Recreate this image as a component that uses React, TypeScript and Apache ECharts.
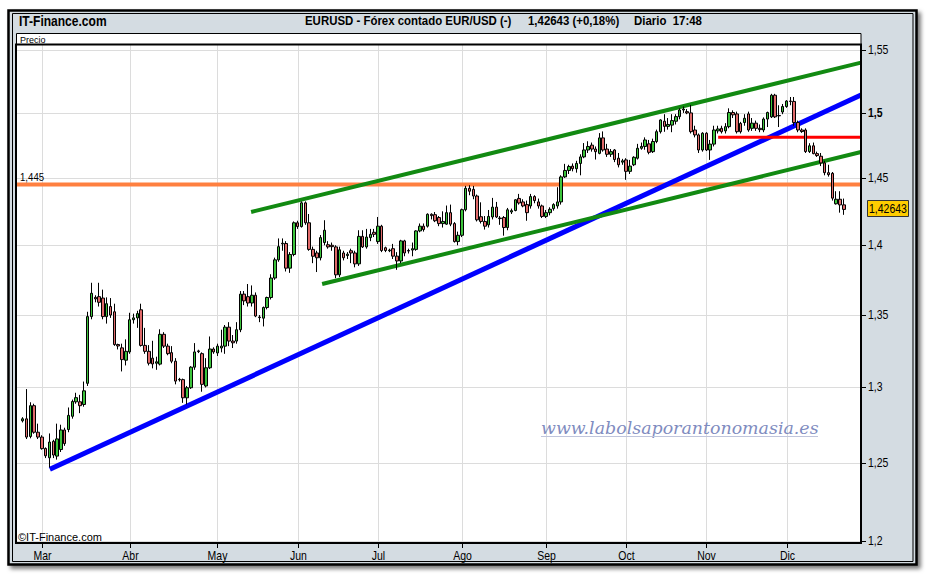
import React, { useEffect, useRef } from "react";
import * as echarts from "echarts";

// Daily candles [open, close, low, high] (EUR/USD, late Feb -> Dec 2009)
const CANDLES: number[][] = [
  [1.2776,1.2789,1.2765,1.2800],[1.2789,1.2668,1.2655,1.2989],[1.2672,1.2877,1.2660,1.2900],[1.2877,1.2700,1.2690,1.2890],
  [1.2700,1.2668,1.2655,1.2757],[1.2668,1.2592,1.2585,1.2680],[1.2593,1.2545,1.2530,1.2600],[1.2532,1.2635,1.2469,1.2692],
  [1.2640,1.2550,1.2530,1.2650],[1.2543,1.2656,1.2520,1.2757],[1.2586,1.2715,1.2570,1.2750],[1.2715,1.2625,1.2610,1.2730],
  [1.2718,1.2812,1.2700,1.2865],[1.2806,1.2905,1.2790,1.2918],[1.2903,1.2931,1.2890,1.2964],[1.2903,1.2877,1.2827,1.2950],
  [1.2885,1.2977,1.2870,1.3040],[1.3028,1.3489,1.3010,1.3523],[1.3489,1.3654,1.3470,1.3729],[1.3625,1.3614,1.3590,1.3640],
  [1.3630,1.3590,1.3560,1.3729],[1.3620,1.3489,1.3470,1.3680],[1.3489,1.3580,1.3440,1.3625],[1.3560,1.3500,1.3480,1.3620],
  [1.3523,1.3294,1.3285,1.3580],[1.3294,1.3284,1.3260,1.3300],[1.3271,1.3190,1.3109,1.3300],[1.3186,1.3247,1.3150,1.3330],
  [1.3243,1.3467,1.3230,1.3516],[1.3467,1.3480,1.3440,1.3510],[1.3480,1.3510,1.3410,1.3530],[1.3537,1.3288,1.3280,1.3580],
  [1.3288,1.3247,1.3230,1.3410],[1.3247,1.3165,1.3150,1.3290],[1.3200,1.3160,1.3130,1.3320],[1.3165,1.3175,1.3120,1.3210],
  [1.3159,1.3365,1.3150,1.3400],[1.3365,1.3283,1.3270,1.3380],[1.3283,1.3231,1.3220,1.3300],[1.3238,1.3179,1.3165,1.3283],
  [1.3179,1.3043,1.3021,1.3200],[1.3055,1.3052,1.3040,1.3065],[1.3053,1.2930,1.2896,1.3060],[1.2930,1.2998,1.2885,1.3010],
  [1.2998,1.3138,1.2990,1.3145],[1.3138,1.3243,1.3120,1.3304],[1.3250,1.3245,1.3235,1.3258],[1.3231,1.3021,1.2971,1.3240],
  [1.3010,1.3134,1.3000,1.3200],[1.3134,1.3263,1.3125,1.3350],[1.3263,1.3243,1.3230,1.3275],[1.3236,1.3283,1.3215,1.3300],
  [1.3270,1.3283,1.3240,1.3397],[1.3283,1.3415,1.3230,1.3430],[1.3415,1.3318,1.3283,1.3450],[1.3318,1.3306,1.3270,1.3360],
  [1.3318,1.3397,1.3300,1.3450],[1.3397,1.3648,1.3380,1.3670],[1.3648,1.3600,1.3570,1.3670],[1.3630,1.3585,1.3560,1.3720],
  [1.3585,1.3640,1.3560,1.3710],[1.3640,1.3493,1.3485,1.3660],[1.3486,1.3482,1.3450,1.3500],[1.3478,1.3553,1.3420,1.3560],
  [1.3553,1.3624,1.3540,1.3630],[1.3624,1.3763,1.3610,1.3790],[1.3763,1.3894,1.3750,1.3910],[1.3894,1.3990,1.3880,1.4050],
  [1.4010,1.4015,1.3960,1.4050],[1.4013,1.3834,1.3810,1.4030],[1.3834,1.3933,1.3800,1.3950],[1.3933,1.4165,1.3920,1.4175],
  [1.4165,1.4137,1.4120,1.4180],[1.4137,1.4313,1.4130,1.4324],[1.4313,1.4165,1.4150,1.4324],[1.4165,1.3970,1.3960,1.4230],
  [1.3970,1.3920,1.3870,1.3990],[1.3944,1.3909,1.3806,1.3960],[1.3909,1.4056,1.3890,1.4075],[1.4020,1.4110,1.4000,1.4184],
  [1.4004,1.3988,1.3975,1.4030],[1.4000,1.3990,1.3960,1.4020],[1.3988,1.3786,1.3762,1.4000],[1.3786,1.3967,1.3770,1.3990],
  [1.3944,1.3909,1.3890,1.3960],[1.3925,1.3935,1.3900,1.3950],[1.3960,1.3944,1.3870,1.3975],[1.3944,1.3865,1.3840,1.3960],
  [1.3865,1.4065,1.3850,1.4110],[1.4065,1.3988,1.3980,1.4110],[1.3988,1.4060,1.3975,1.4120],[1.4056,1.4080,1.4030,1.4120],
  [1.4095,1.4080,1.4060,1.4120],[1.4027,1.4140,1.4010,1.4208],[1.4140,1.3962,1.3950,1.4150],[1.3982,1.3962,1.3950,1.3990],
  [1.3960,1.3965,1.3950,1.3975],[1.3975,1.3921,1.3900,1.4010],[1.3921,1.3886,1.3822,1.3950],[1.3886,1.4032,1.3870,1.4040],
  [1.4032,1.3944,1.3920,1.4040],[1.3962,1.3958,1.3940,1.3975],[1.3965,1.3975,1.3920,1.4020],[1.3970,1.4105,1.3960,1.4110],
  [1.4105,1.4140,1.4095,1.4160],[1.4140,1.4115,1.4100,1.4160],[1.4140,1.4228,1.4130,1.4235],[1.4228,1.4218,1.4190,1.4235],
  [1.4225,1.4180,1.4170,1.4245],[1.4204,1.4159,1.4140,1.4215],[1.4159,1.4175,1.4130,1.4250],[1.4155,1.4240,1.4150,1.4293],
  [1.4240,1.4155,1.4140,1.4300],[1.4159,1.4027,1.4020,1.4170],[1.4027,1.4073,1.4000,1.4100],[1.4073,1.4262,1.4060,1.4270],
  [1.4262,1.4422,1.4250,1.4440],[1.4422,1.4400,1.4370,1.4445],[1.4414,1.4364,1.4340,1.4440],[1.4364,1.4187,1.4175,1.4375],
  [1.4210,1.4175,1.4160,1.4317],[1.4175,1.4140,1.4115,1.4215],[1.4150,1.4212,1.4130,1.4260],[1.4208,1.4281,1.4190,1.4350],
  [1.4281,1.4208,1.4200,1.4320],[1.4200,1.4196,1.4150,1.4215],[1.4204,1.4130,1.4070,1.4215],[1.4130,1.4261,1.4110,1.4275],
  [1.4245,1.4255,1.4230,1.4270],[1.4256,1.4336,1.4250,1.4340],[1.4346,1.4312,1.4300,1.4380],[1.4320,1.4290,1.4280,1.4340],
  [1.4300,1.4240,1.4180,1.4330],[1.4290,1.4360,1.4270,1.4380],[1.4360,1.4330,1.4310,1.4370],[1.4320,1.4290,1.4270,1.4345],
  [1.4290,1.4212,1.4200,1.4300],[1.4212,1.4240,1.4200,1.4260],[1.4240,1.4265,1.4220,1.4280],[1.4270,1.4300,1.4255,1.4310],
  [1.4290,1.4320,1.4270,1.4430],[1.4320,1.4508,1.4300,1.4520],[1.4508,1.4557,1.4500,1.4607],[1.4557,1.4587,1.4530,1.4600],
  [1.4590,1.4570,1.4550,1.4610],[1.4570,1.4610,1.4540,1.4630],[1.4610,1.4660,1.4520,1.4680],[1.4660,1.4713,1.4650,1.4766],
  [1.4713,1.4740,1.4690,1.4780],[1.4750,1.4720,1.4700,1.4770],[1.4720,1.4700,1.4640,1.4740],[1.4687,1.4806,1.4680,1.4843],
  [1.4806,1.4713,1.4700,1.4856],[1.4720,1.4680,1.4660,1.4760],[1.4680,1.4700,1.4660,1.4720],[1.4713,1.4640,1.4620,1.4720],
  [1.4650,1.4600,1.4580,1.4690],[1.4620,1.4630,1.4600,1.4645],[1.4637,1.4550,1.4486,1.4650],[1.4550,1.4590,1.4530,1.4637],
  [1.4600,1.4657,1.4590,1.4665],[1.4650,1.4726,1.4640,1.4760],[1.4726,1.4740,1.4715,1.4770],[1.4740,1.4790,1.4715,1.4810],
  [1.4760,1.4695,1.4680,1.4790],[1.4700,1.4778,1.4690,1.4800],[1.4778,1.4854,1.4765,1.4870],[1.4854,1.4945,1.4840,1.4950],
  [1.4935,1.4895,1.4853,1.4990],[1.4895,1.4910,1.4870,1.4960],[1.4905,1.4940,1.4850,1.4990],[1.4935,1.4971,1.4910,1.4990],
  [1.4971,1.5023,1.4950,1.5036],[1.5023,1.5030,1.5000,1.5050],[1.5010,1.5000,1.4990,1.5030],[1.5000,1.4854,1.4840,1.5062],
  [1.4867,1.4829,1.4810,1.4900],[1.4829,1.4713,1.4690,1.4840],[1.4713,1.4842,1.4700,1.4850],[1.4842,1.4713,1.4705,1.4850],
  [1.4713,1.4758,1.4637,1.4790],[1.4758,1.4867,1.4740,1.4900],[1.4860,1.4875,1.4840,1.4900],[1.4880,1.4854,1.4840,1.4900],
  [1.4860,1.4893,1.4840,1.4920],[1.4893,1.5003,1.4880,1.5036],[1.5003,1.4985,1.4960,1.5020],[1.4992,1.4854,1.4840,1.5010],
  [1.4918,1.4854,1.4840,1.4930],[1.4925,1.4958,1.4900,1.4990],[1.4992,1.4867,1.4853,1.5010],[1.4880,1.4920,1.4860,1.4960],
  [1.4920,1.4880,1.4860,1.4940],[1.4880,1.4870,1.4850,1.4910],[1.4867,1.4952,1.4850,1.4965],[1.4952,1.5003,1.4890,1.5010],
  [1.4969,1.5139,1.4960,1.5150],[1.5139,1.4969,1.4960,1.5150],[1.4980,1.4977,1.4890,1.5060],[1.5007,1.5050,1.4990,1.5070],
  [1.5050,1.5093,1.5040,1.5100],[1.5093,1.5090,1.5060,1.5125],[1.5090,1.4925,1.4900,1.5125],[1.4925,1.4867,1.4850,1.4940],
  [1.4867,1.4855,1.4845,1.4880],[1.4867,1.4701,1.4690,1.4880],[1.4701,1.4745,1.4690,1.4765],[1.4745,1.4685,1.4680,1.4770],
  [1.4685,1.4670,1.4660,1.4700],[1.4665,1.4614,1.4590,1.4690],[1.4614,1.4540,1.4520,1.4630],[1.4540,1.4525,1.4510,1.4600],
  [1.4535,1.4348,1.4330,1.4545],[1.4306,1.4340,1.4300,1.4400],[1.4340,1.4298,1.4240,1.4400],[1.4298,1.4264,1.4224,1.4345],
];

// Month labels and the candle index where each month starts
const MONTH_LABELS = ["Mar", "Abr", "May", "Jun", "Jul", "Ago", "Sep", "Oct", "Nov", "Dic"];
const MONTH_START_INDEX = [5, 28, 51, 72, 93, 115, 137, 158, 179, 200];

// Price axis (logarithmic) ticks
const Y_TICKS = [1.2, 1.25, 1.3, 1.35, 1.4, 1.45, 1.5, 1.55];
const Y_TICK_LABELS = ["1,2", "1,25", "1,3", "1,35", "1,4", "1,45", "1,5", "1,55"];
const Y_BOLD_TICK = 1.5;
const Y_MIN = 1.19875;
const Y_MAX = 1.55405;

// Horizontal level and last price
const LEVEL_VALUE = 1.445;
const LEVEL_LABEL = "1,445";
const LAST_PRICE = 1.42643;
const LAST_PRICE_LABEL = "1,42643";

// Trend lines: [category position, price]
const BLUE_LINE = [[8.1, 1.2457], [220.5, 1.5141]];
const GREEN_UPPER_LINE = [[60.8, 1.4245], [220.5, 1.5398]];
const GREEN_LOWER_LINE = [[79.4, 1.372], [220.5, 1.4697]];
const RED_LINE = [[183.1, 1.481], [220.5, 1.481]];
const ORANGE_LINE = [[-0.5, LEVEL_VALUE], [220.5, LEVEL_VALUE]];

const PAD_LEFT = 1;
const PAD_RIGHT = 4;
const CAT_COUNT = PAD_LEFT + CANDLES.length + PAD_RIGHT;
const CATEGORIES = Array.from({ length: CAT_COUNT }, (_, i) => "d" + i);

const SANS = "'Liberation Sans', Arial, sans-serif";
const NARROW_SCALE = 0.84;
const GRID = { left: 17, top: 45, width: 844, height: 498 };

export default function App() {
  const ref = useRef<HTMLDivElement>(null);

  useEffect(() => {
    if (!ref.current) return;
    const chart = echarts.init(ref.current, undefined, { renderer: "svg" });
    const pad = ["-", "-", "-", "-"];
    const candleData: any[] = [];
    for (let i = 0; i < PAD_LEFT; i++) candleData.push(pad);
    CANDLES.forEach((c) => candleData.push(c));
    for (let i = 0; i < PAD_RIGHT; i++) candleData.push(pad);

    const lineSeries = (data: number[][], color: string, width: number) => ({
      type: "line",
      xAxisIndex: 1,
      yAxisIndex: 0,
      data,
      showSymbol: false,
      symbol: "none",
      silent: true,
      clip: true,
      z: 3,
      lineStyle: { color, width, cap: "butt" },
    });

    const narrowText = (text: string, x: number, y: number, size: number, bold: boolean, scale: number) => ({
      type: "text", z: 41, silent: true, x, y, scaleX: scale,
      style: { text, fontSize: size, fontWeight: bold ? "bold" : "normal", fontFamily: SANS, fill: "#000", verticalAlign: "middle" },
    });

    const option: any = {
      animation: false,
      backgroundColor: "#ffffff",
      grid: { ...GRID, show: false, containLabel: false },
      xAxis: [
        { type: "category", data: CATEGORIES, boundaryGap: true, show: false },
        { type: "value", min: -0.5, max: CAT_COUNT - 0.5, show: false },
      ],
      yAxis: [{ type: "log", logBase: 10, min: Y_MIN, max: Y_MAX, show: false }],
      graphic: [
        {
          type: "rect", z: -20, silent: true,
          shape: { x: 8.5, y: 10.5, width: 908, height: 554 },
          style: { fill: "#d4dce2", stroke: "#000", lineWidth: 2.5, shadowBlur: 4, shadowOffsetX: 3, shadowOffsetY: 3, shadowColor: "rgba(0,0,0,0.55)" },
        },
        {
          type: "rect", z: -19, silent: true,
          shape: { x: 12.5, y: 13.5, width: 900.5, height: 548 },
          style: { fill: "none", stroke: "#000", lineWidth: 1 },
        },
        {
          type: "rect", z: -15, silent: true,
          shape: { x: GRID.left, y: GRID.top, width: GRID.width, height: GRID.height },
          style: { fill: "#ffffff" },
        },
        {
          type: "rect", z: 40, silent: true,
          shape: { x: 16.5, y: 33.5, width: 844.5, height: 11 },
          style: { fill: "#ffffff", stroke: "#000", lineWidth: 1 },
        },
        {
          type: "text", z: 41, silent: true, x: 20, y: 39.5,
          style: { text: "Precio", fontSize: 9, fontFamily: SANS, fill: "#000", verticalAlign: "middle" },
        },
        {
          type: "rect", z: 50, silent: true,
          shape: { x: 16, y: 44.5, width: 845, height: 498.5 },
          style: { fill: "none", stroke: "#000", lineWidth: 2 },
        },
        narrowText("IT-Finance.com", 19, 21, 14, true, 0.86),
        narrowText("EURUSD - Fórex contado EUR/USD (-)", 305, 21, 13, true, 0.88),
        narrowText("1,42643 (+0,18%)", 528, 21, 13, true, 0.88),
        narrowText("Diario  17:48", 634, 21, 13, true, 0.88),
        narrowText("©IT-Finance.com", 18, 537, 11, false, 1.0),
        {
          type: "text", z: 30, silent: true, x: 541, y: 428,
          style: { text: "www.labolsaporantonomasia.es", fontSize: 17.4, fontStyle: "italic", fontFamily: "'DejaVu Serif', 'Liberation Serif', serif", fill: "#7f8cc0", verticalAlign: "middle" },
        },
        {
          type: "line", z: 30, silent: true,
          shape: { x1: 541, y1: 436.5, x2: 818, y2: 436.5 },
          style: { stroke: "#c0c5dc", lineWidth: 1 },
        },
      ],
      series: [
        {
          type: "custom",
          name: "yTicks",
          xAxisIndex: 1,
          yAxisIndex: 0,
          z: 1,
          silent: true,
          clip: false,
          data: Y_TICKS.map((v, i) => [0, v, i]),
          renderItem: (params: any, api: any) => {
            const cs = params.coordSys;
            const v = api.value(1);
            const i = api.value(2);
            const y = Math.round(api.coord([0, v])[1]) + 0.5;
            const r = cs.x + cs.width;
            return {
              type: "group",
              children: [
                { type: "line", shape: { x1: cs.x, y1: y, x2: r, y2: y }, style: { stroke: "#dcdcdc", lineWidth: 1 } },
                { type: "line", shape: { x1: r, y1: y, x2: r + 5, y2: y }, style: { stroke: "#000", lineWidth: 1 } },
                {
                  type: "text", x: r + 7, y: y - 1, scaleX: NARROW_SCALE,
                  style: {
                    text: Y_TICK_LABELS[i], fontSize: 12.5, fontFamily: SANS,
                    fontWeight: v === Y_BOLD_TICK ? "bold" : "normal",
                    fill: "#000", align: "left", verticalAlign: "middle",
                  },
                },
              ],
            };
          },
        },
        {
          type: "custom",
          name: "xTicks",
          xAxisIndex: 1,
          yAxisIndex: 0,
          z: 1,
          silent: true,
          clip: false,
          data: MONTH_START_INDEX.map((s, i) => [s + PAD_LEFT, 1.3, i]),
          renderItem: (params: any, api: any) => {
            const cs = params.coordSys;
            const x = Math.round(api.coord([api.value(0), 1.3])[0]) + 0.5;
            const i = api.value(2);
            const b = cs.y + cs.height;
            return {
              type: "group",
              children: [
                { type: "line", shape: { x1: x, y1: cs.y, x2: x, y2: b }, style: { stroke: "#dcdcdc", lineWidth: 1 } },
                { type: "line", shape: { x1: x, y1: b, x2: x, y2: b + 5 }, style: { stroke: "#000", lineWidth: 1 } },
                {
                  type: "text", x, y: b + 13, scaleX: NARROW_SCALE,
                  style: { text: MONTH_LABELS[i], fontSize: 12.5, fontFamily: SANS, fill: "#000", align: "center", verticalAlign: "middle" },
                },
              ],
            };
          },
        },
        lineSeries(ORANGE_LINE, "#ff8040", 4),
        lineSeries(BLUE_LINE, "#0000ff", 5),
        lineSeries(GREEN_UPPER_LINE, "#128a12", 4),
        lineSeries(GREEN_LOWER_LINE, "#128a12", 4),
        lineSeries(RED_LINE, "#ff0000", 3),
        {
          type: "candlestick",
          xAxisIndex: 0,
          yAxisIndex: 0,
          z: 5,
          silent: true,
          barWidth: 3,
          data: candleData,
          itemStyle: {
            color: "#3cc43c",
            color0: "#e06a6a",
            borderColor: "#000",
            borderColor0: "#000",
            borderColorDoji: "#000",
            borderWidth: 1,
          },
        },
        {
          type: "custom",
          name: "annotations",
          xAxisIndex: 1,
          yAxisIndex: 0,
          z: 6,
          silent: true,
          clip: false,
          data: [[-0.5, LEVEL_VALUE, 0], [CAT_COUNT - 0.5, LAST_PRICE, 1]],
          renderItem: (params: any, api: any) => {
            const cs = params.coordSys;
            const kind = api.value(2);
            const y = api.coord([api.value(0), api.value(1)])[1];
            if (kind === 0) {
              return {
                type: "text", x: cs.x + 3, y: y - 1.5, scaleX: NARROW_SCALE,
                style: { text: LEVEL_LABEL, fontSize: 11.5, fontFamily: SANS, fill: "#000", align: "left", verticalAlign: "bottom" },
              };
            }
            const r = cs.x + cs.width;
            return {
              type: "group",
              children: [
                { type: "rect", shape: { x: r + 6.5, y: Math.round(y) - 8.5, width: 41, height: 16 }, style: { fill: "#ffcc00", stroke: "#333", lineWidth: 1 } },
                {
                  type: "text", x: r + 27, y: Math.round(y) - 0.5, scaleX: NARROW_SCALE,
                  style: { text: LAST_PRICE_LABEL, fontSize: 12.5, fontFamily: SANS, fill: "#000", align: "center", verticalAlign: "middle" },
                },
              ],
            };
          },
        },
      ],
    };
    chart.setOption(option);
    return () => chart.dispose();
  }, []);

  return (
    <div
      ref={ref}
      style={{ position: "absolute", left: 0, top: 0, width: 926, height: 576, background: "#fff" }}
    />
  );
}
